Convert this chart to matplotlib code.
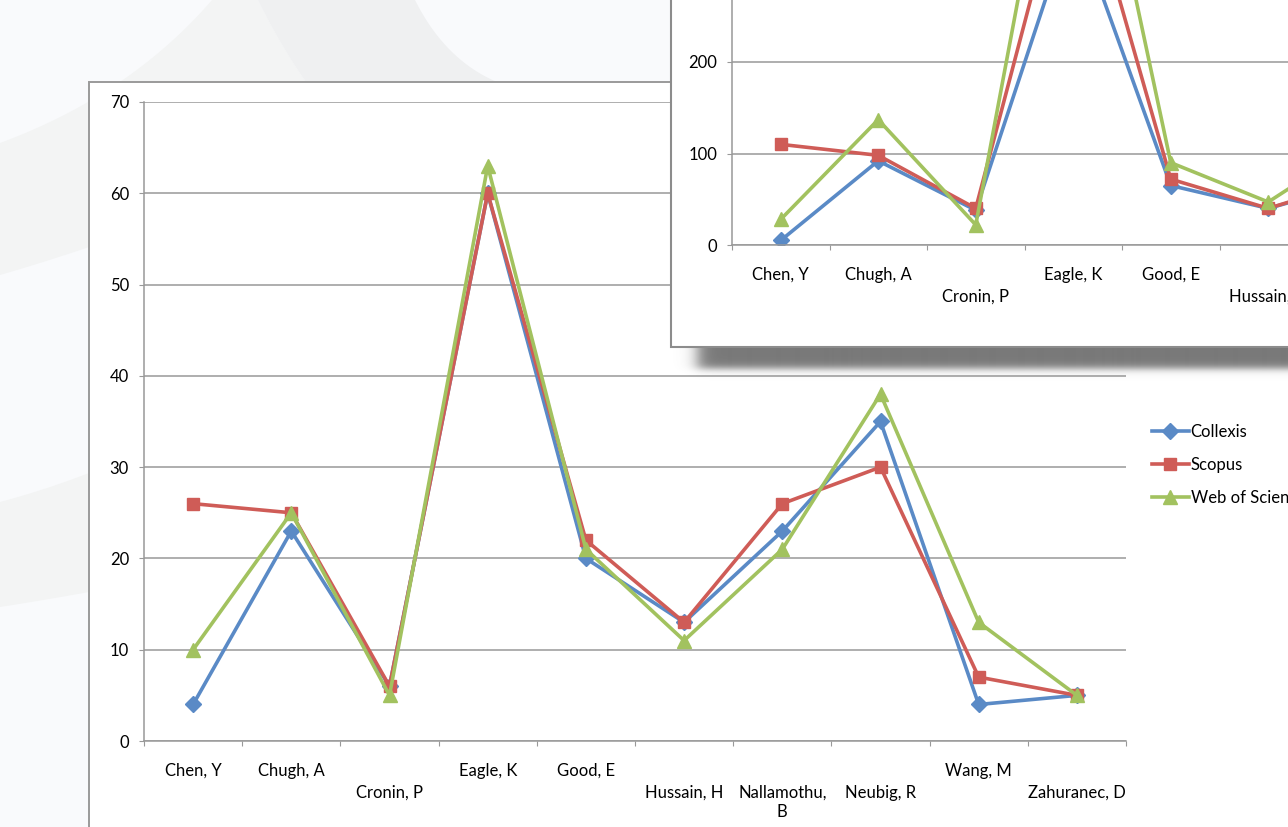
import numpy as np
import matplotlib
matplotlib.use("Agg")
import matplotlib.pyplot as plt
from matplotlib.patches import Rectangle, Polygon
from matplotlib.lines import Line2D

plt.rcParams['font.family'] = ['Lato', 'DejaVu Sans']

# ---- data: main chart (author counts) ----
authors = ["Chen, Y", "Chugh, A", "Cronin, P", "Eagle, K", "Good, E",
           "Hussain, H", "Nallamothu,\nB", "Neubig, R", "Wang, M", "Zahuranec, D"]
label_row = [0, 0, 1, 0, 0, 1, 1, 1, 0, 1]   # Excel staggers the category labels
collexis = [4, 23, 6, 60, 20, 13, 23, 35, 4, 5]
scopus = [26, 25, 6, 60, 22, 13, 26, 30, 7, 5]
wos = [10, 25, 5, 63, 21, 11, 21, 38, 13, 5]

# ---- data: cropped inset chart (second metric, only first six authors visible) ----
inset_authors = ["Chen, Y", "Chugh, A", "Cronin, P", "Eagle, K", "Good, E", "Hussain, H", "Nallamothu, B"]
inset_collexis = [5, 92, 38, 360, 65, 40, 70]
inset_scopus = [110, 98, 40, 445, 72, 40, 73]
inset_wos = [28, 137, 22, 590, 90, 47, 116]

series = [("Collexis", "#5A8AC6", "D", 8.5),
          ("Scopus", "#CF5C57", "s", 8.5),
          ("Web of Science", "#A2C25F", "^", 10)]

W, H = 1288, 827
FS = 12
fig = plt.figure(figsize=(W / 100, H / 100), dpi=100)


def frac(x0, y0, x1, y1):
    # pixel box (y down) -> figure fraction rect
    return [x0 / W, 1 - y1 / H, (x1 - x0) / W, (y1 - y0) / H]


def bez(p0, c, p1, n=30):
    t = np.linspace(0, 1, n)[:, None]
    p0, c, p1 = map(np.array, (p0, c, p1))
    return list((1 - t) ** 2 * p0 + 2 * (1 - t) * t * c + t ** 2 * p1)


# ---- slide background ----
bg = fig.add_axes([0, 0, 1, 1], zorder=0)
bg.set_xlim(0, W); bg.set_ylim(H, 0); bg.axis("off")
bg.add_patch(Rectangle((0, 0), W, H, color="#F9FAFC"))
band_a = bez((0, 143), (130, 95), (212, 0)) + [(258, 0)] + bez((258, 0), (280, 45), (306, 82)) \
    + [(306, 140), (89, 247)] + bez((89, 247), (45, 262), (0, 275))
bg.add_patch(Polygon(band_a, color="#F3F4F4", lw=0))
band_b = bez((258, 0), (280, 45), (306, 82)) + bez((497, 82), (445, 60), (415, 0))
bg.add_patch(Polygon(band_b, color="#EFF0F1", lw=0))
band_c = bez((0, 502), (45, 490), (89, 473)) + bez((89, 592), (45, 600), (0, 607))
bg.add_patch(Polygon(band_c, color="#F3F4F4", lw=0))
# main chart frame
bg.add_patch(Rectangle((89, 82), 1300, 900, facecolor="white", edgecolor="#9A9A9A", lw=1.4))

# ---- main chart ----
ax = fig.add_axes(frac(144, 102, 1126, 741), zorder=1)
ax.set_facecolor("none")
x = np.arange(len(authors)) + 0.5
for (name, col, mk, ms), vals in zip(series, [collexis, scopus, wos]):
    ax.plot(x, vals, color=col, lw=2.6, marker=mk, ms=ms, mec=col, mfc=col, label=name, clip_on=False)
ax.set_xlim(0, len(authors))
ax.set_ylim(0, 70)
ax.set_yticks(range(0, 71, 10))
ax.set_xticks(range(0, len(authors) + 1))
ax.set_xticklabels([])
ax.grid(axis="y", color="#999999", lw=1.1)
ax.set_axisbelow(True)
for s in ["top", "right"]:
    ax.spines[s].set_visible(False)
for s in ["left", "bottom"]:
    ax.spines[s].set_color("#999999"); ax.spines[s].set_linewidth(1.1)
ax.tick_params(axis="both", direction="out", length=3.8, color="#999999", labelsize=FS, pad=7)
for xi, lab, r in zip(x, authors, label_row):
    ax.annotate(lab, xy=(xi, 0), xycoords=("data", "axes fraction"),
                xytext=(0, -22 - 22 * r), textcoords="offset pixels",
                ha="center", va="top", fontsize=FS, linespacing=1.25)

handles = [Line2D([], [], color=c, lw=2.6, marker=m, ms=ms * 0.95, mec=c, mfc=c) for _, c, m, ms in series]
fig.legend(handles, [s[0] for s in series], loc="upper left",
           bbox_to_anchor=(1152 / W, 1 - 424 / H), frameon=False, fontsize=FS,
           handlelength=2.2, handletextpad=0.12, labelspacing=1.02, borderpad=0, borderaxespad=0)

# ---- inset (pasted screenshot) with drop shadow ----
ov = fig.add_axes([0, 0, 1, 1], zorder=2)
gx, gy = np.meshgrid(np.arange(670, W + 1), np.arange(330, 390))
alpha = 0.5 * (1 + np.tanh((gx - 697) / 9)) * 0.5 * (1 - np.tanh((gy - 368) / 4.5)) * 0.88
rgba = np.zeros(gx.shape + (4,))
rgba[..., :3] = 0.40
rgba[..., 3] = alpha
ov.imshow(rgba, extent=[670, W + 1, 390, 330], interpolation="bilinear", aspect="auto")
ov.set_xlim(0, W); ov.set_ylim(H, 0); ov.axis("off")
ov.add_patch(Rectangle((671, -20), 700, 367, facecolor="white", edgecolor="#8C8C8C", lw=1.5))

top_val = 245 / 91.5 * 100
spacing = 97.5
axi = fig.add_axes(frac(732, 0, W, 245), zorder=3)
axi.set_facecolor("none")
xi_ = np.arange(len(inset_authors)) + 0.5
for (name, col, mk, ms), vals in zip(series, [inset_collexis, inset_scopus, inset_wos]):
    axi.plot(xi_, vals, color=col, lw=2.6, marker=mk, ms=ms, mec=col, mfc=col)
axi.set_xlim(0, (W - 732) / spacing)
axi.set_ylim(0, top_val)
axi.set_yticks([0, 100, 200])
axi.set_xticks(range(0, 6))
axi.set_xticklabels([])
axi.grid(axis="y", color="#999999", lw=1.1)
axi.set_axisbelow(True)
for s in ["top", "right"]:
    axi.spines[s].set_visible(False)
for s in ["left", "bottom"]:
    axi.spines[s].set_color("#999999"); axi.spines[s].set_linewidth(1.1)
axi.tick_params(axis="both", direction="out", length=3.8, color="#999999", labelsize=FS, pad=7)
for xv, lab, r in zip(xi_, inset_authors[:6], label_row[:6]):
    axi.annotate(lab, xy=(xv, 0), xycoords=("data", "axes fraction"),
                 xytext=(0, -22 - 22 * r), textcoords="offset pixels",
                 ha="center", va="top", fontsize=FS, annotation_clip=False)

fig.savefig("out.png", dpi=100)
